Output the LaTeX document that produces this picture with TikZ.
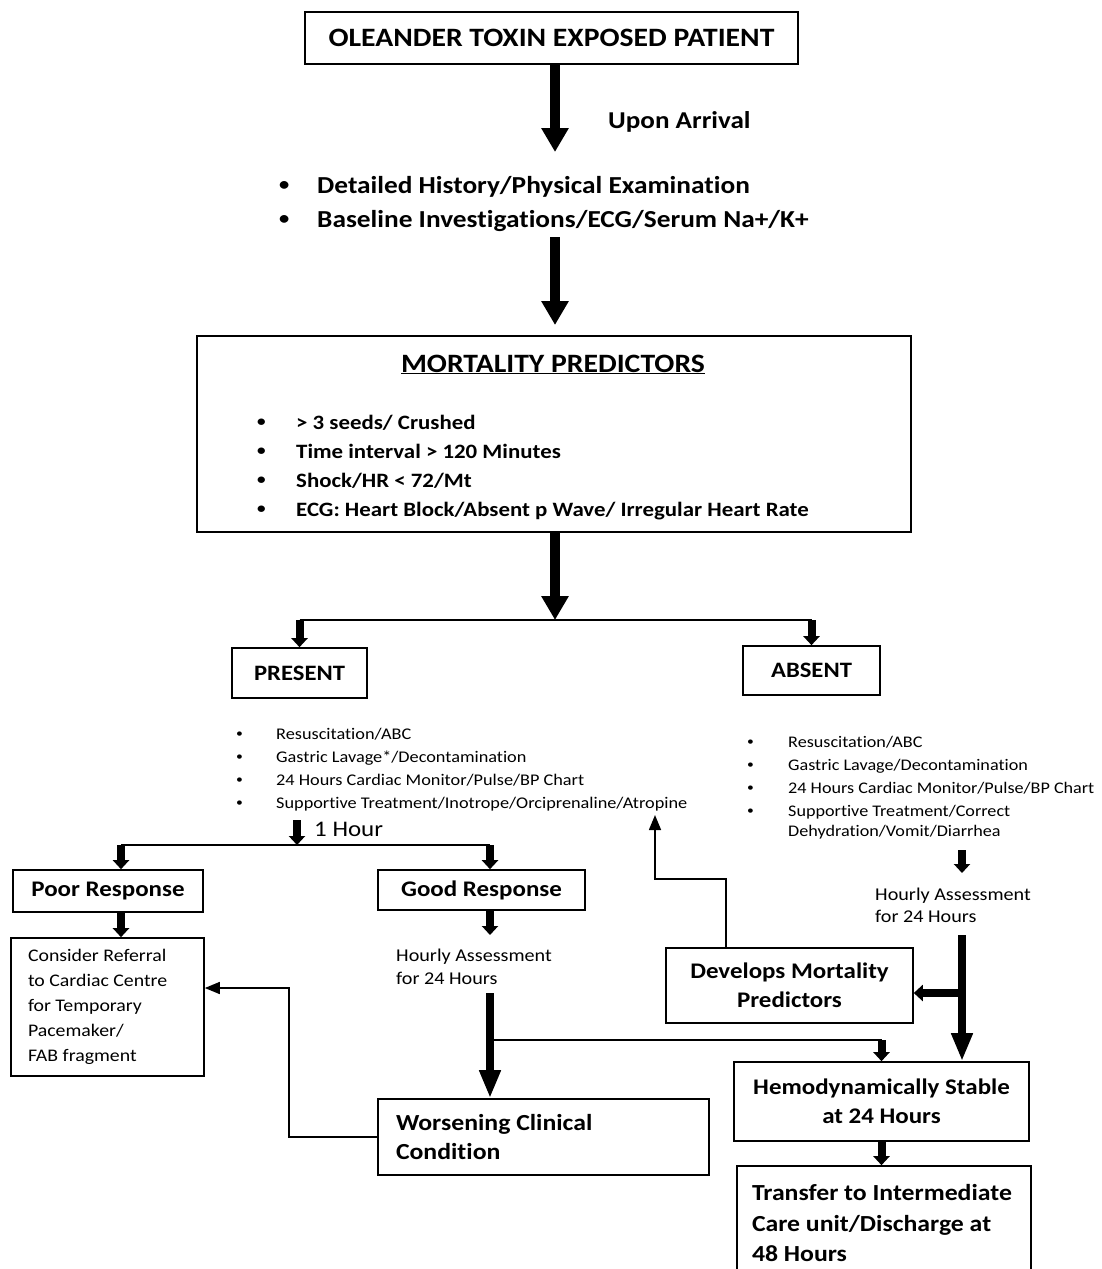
\documentclass[tikz,border=0pt]{standalone}
\usepackage{fontspec}
\setmainfont{Carlito}[FakeStretch=1.12, Ligatures=NoCommon]
\usetikzlibrary{arrows.meta,positioning,calc}

\newcommand{\fsz}[2]{\fontsize{#1}{#2}\selectfont}
\newcommand{\blt}[1]{\makebox[#1][l]{\raisebox{0.1em}{\scalebox{0.75}{\textbullet}}}}

\begin{document}
\begin{tikzpicture}[x=1pt, y=-1pt,
    box/.style={rectangle, draw, line width=1.6pt, inner sep=0pt, font=\bfseries\fsz{22.3}{29}, align=center},
    leftbox/.style={rectangle, draw, line width=1.6pt, inner ysep=0pt, align=flush left},
    txt/.style={inner sep=0pt, align=left},
    bigarrow/.style={-{Triangle[width=26pt,length=24pt]}, line width=10pt},
    midarrow/.style={-{Triangle[width=20pt,length=28pt]}, line width=8.5pt},
    smallarrow/.style={-{Triangle[width=16pt,length=9pt]}, line width=8pt},
    thin/.style={line width=1.5pt},
    thinarrow/.style={-{Triangle[width=12pt,length=15pt]}, line width=1.5pt}
]
\useasboundingbox (0,0) rectangle (1102,1269);

% Arrival
\node[box, minimum width=493pt, minimum height=52pt, font=\bfseries\fsz{26.5}{30}] (title) at (551.5,38) {OLEANDER TOXIN EXPOSED PATIENT};
\node[txt, anchor=west, font=\bfseries\fsz{24.2}{28}] (arrival) at (608,122) {Upon Arrival};
\coordinate (arrivalend) at (555,152);
\draw[bigarrow] (title.south -| arrivalend) -- (arrivalend);

\node[txt, anchor=base west, font=\bfseries\fsz{24.4}{34}] (history) at (279,193) {%
  \begin{tabular}[t]{@{}l@{}l@{}}
  \blt{38pt} & Detailed History/Physical Examination\\
  \blt{38pt} & Baseline Investigations/ECG/Serum Na+/K+
  \end{tabular}};
\coordinate (historyend) at (555,325);
\draw[bigarrow] (history.south -| historyend) -- (historyend);

% Mortality predictors
\node[box, minimum width=714pt, minimum height=196pt] (predictors) at (554,434) {};
\node[txt, anchor=base, font=\bfseries\fsz{26.5}{30}] (predtitle) at (553,372) {\underline{MORTALITY PREDICTORS}};
\node[txt, anchor=base west, font=\bfseries\fsz{20.4}{29}] (predlist) at (257,429) {%
  \begin{tabular}[t]{@{}l@{}l@{}}
  \blt{39pt} & > 3 seeds/ Crushed\\
  \blt{39pt} & Time interval > 120 Minutes\\
  \blt{39pt} & Shock/HR < 72/Mt\\
  \blt{39pt} & ECG: Heart Block/Absent p Wave/ Irregular Heart Rate
  \end{tabular}};

\coordinate (split) at (555,620);
\draw[bigarrow] (predictors.south -| split) -- (split);

\node[box, minimum width=135pt, minimum height=50pt, font=\bfseries\fsz{22}{26}] (present) at (299.5,673) {PRESENT};
\node[box, minimum width=137pt, minimum height=49pt, font=\bfseries\fsz{22}{26}] (absent) at (811.5,670.5) {ABSENT};
\draw[thin] (split -| present) -- (split -| absent);
\draw[smallarrow] (split -| present) -- (present.north);
\draw[smallarrow] (split -| absent) -- (absent.north);

% Present branch
\node[txt, anchor=base west, font=\fsz{16.3}{23}] (presentcare) at (236,739) {%
  \begin{tabular}[t]{@{}l@{}l@{}}
  \blt{40pt} & Resuscitation/ABC\\
  \blt{40pt} & Gastric Lavage*/Decontamination\\
  \blt{40pt} & 24 Hours Cardiac Monitor/Pulse/BP Chart\\
  \blt{40pt} & Supportive Treatment/Inotrope/Orciprenaline/Atropine
  \end{tabular}};

\coordinate (hourtop) at (297,820);
\coordinate (hourbar) at (297,845);
\draw[smallarrow] (hourtop) -- (hourbar);
\node[txt, anchor=west, font=\fsz{22.3}{26}] (onehour) at (314,829) {1 Hour};

\coordinate (poorin) at (121,845);
\coordinate (goodin) at (490,845);
\draw[thin] (poorin) -- (goodin);

\node[box, minimum width=190pt, minimum height=42pt] (poor) at (108,891) {Poor Response};
\node[box, minimum width=207pt, minimum height=40pt] (good) at (481.5,890) {Good Response};
\draw[smallarrow] (poorin) -- (poorin |- poor.north);
\draw[smallarrow] (goodin) -- (goodin |- good.north);

\node[leftbox, text width=159pt, inner xsep=17pt, minimum height=138pt, font=\fsz{17.7}{25}] (referral) at (107.5,1007)
  {Consider Referral\\to Cardiac Centre\\for Temporary\\Pacemaker/\\FAB fragment};
\draw[smallarrow] (poor.south -| poorin) -- (referral.north -| poorin);

\node[txt, anchor=north west, font=\fsz{18}{23}] (hourlygood) at (396,949) {Hourly Assessment\\for 24 Hours};
\draw[smallarrow, shorten >=14pt] (good.south -| goodin) -- (goodin |- hourlygood.north);

\node[leftbox, text width=295pt, inner xsep=18pt, minimum height=76pt, font=\bfseries\fsz{23}{29}] (worsening) at (543.5,1137)
  {Worsening Clinical\\Condition};
\draw[midarrow, shorten <=8pt] (hourlygood.south -| goodin) -- (worsening.north -| goodin);
\draw[thinarrow] (worsening.west) -- ++(-88,0) |- ([yshift=19pt]referral.east);

% Absent branch
\node[txt, anchor=base west, font=\fsz{16.2}{23}] (absentcare) at (747,747) {%
  \begin{tabular}[t]{@{}l@{}l@{}}
  \blt{41pt} & Resuscitation/ABC\\
  \blt{41pt} & Gastric Lavage/Decontamination\\
  \blt{41pt} & 24 Hours Cardiac Monitor/Pulse/BP Chart\\
  \blt{41pt} & Supportive Treatment/Correct\\[-3pt]
             & Dehydration/Vomit/Diarrhea
  \end{tabular}};

\coordinate (absentdown) at (962,850);
\node[txt, anchor=north west, font=\fsz{18}{22}] (hourlyabsent) at (875,888) {Hourly Assessment\\for 24 Hours};
\draw[smallarrow, shorten >=15pt] (absentdown) -- (absentdown |- hourlyabsent.north);

\node[box, minimum width=247pt, minimum height=75pt] (develops) at (789.5,985.5) {Develops Mortality\\Predictors};
\node[box, minimum width=295pt, minimum height=79pt] (stable) at (881.5,1101.5) {Hemodynamically Stable\\at 24 Hours};
\node[leftbox, text width=264pt, inner xsep=15pt, minimum height=114pt, font=\bfseries\fsz{23}{31}] (transfer) at (884,1223)
  {Transfer to Intermediate\\Care unit/Discharge at\\48 Hours};

\draw[midarrow, shorten <=12pt] (hourlyabsent.south -| absentdown) -- (stable.north -| absentdown);
\coordinate (devin) at ([yshift=-7.5pt]develops.east);
\draw[smallarrow] (devin -| absentdown) -- (devin);

\coordinate (atropine) at (655,815);
\draw[thinarrow] ([xshift=-63.5pt]develops.north) -- ++(0,-68) -| (atropine);

\coordinate (branch) at (490,1040);
\draw[thin] (branch) -- (branch -| stable);
\draw[smallarrow] (branch -| stable) -- (stable.north);
\draw[smallarrow] (stable.south) -- (stable.south |- transfer.north);

\end{tikzpicture}
\end{document}
